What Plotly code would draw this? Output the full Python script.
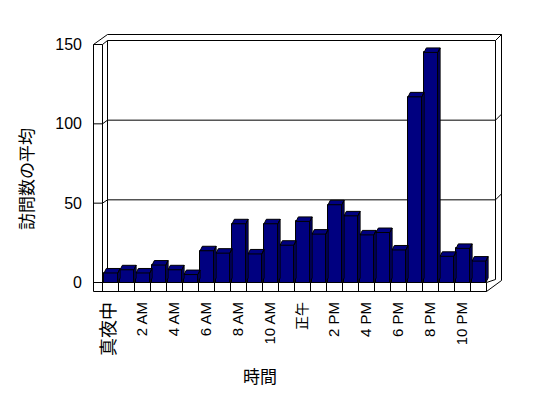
import plotly.graph_objects as go

# ---------------- data ----------------
categories = ["真夜中", "1 AM", "2 AM", "3 AM", "4 AM", "5 AM", "6 AM", "7 AM",
              "8 AM", "9 AM", "10 AM", "11 AM", "正午", "1 PM", "2 PM", "3 PM",
              "4 PM", "5 PM", "6 PM", "7 PM", "8 PM", "9 PM", "10 PM", "11 PM"]
visits = [6, 8, 6, 11, 8, 5, 20, 18.5, 37, 18, 37, 23.5,
          38.5, 30.5, 49, 42, 30, 31.5, 20.5, 117, 145, 16.5, 21.5, 13.5]
y_ticks = [0, 50, 100, 150]
x_title = "時間"
y_title = "訪問数の平均"
label_step = 2

# ---------------- geometry (pixels) ----------------
W, H = 548, 398
PL, PR, PT, PB = 93, 502, 34, 292          # plot area
X_EDGE_PX, CAT_PX = 102.5, 16.0            # px of boundary -0.5, px per category
Y0_PX, UNIT_PX = 282.5, (282.5 - 44.5) / 150.0

def xd(px):
    return -0.5 + (px - X_EDGE_PX) / CAT_PX

def yd(py):
    return (Y0_PX - py) / UNIT_PX

def pxp(px):
    return (px - PL) / (PR - PL)

def pyp(py):
    return (PB - py) / (PB - PT)

NAVY = "#000080"
BAR_OFFSET, BAR_W = -0.4, 0.86
BAR_DX = 0.14
BAR_DY = 4.5 / UNIT_PX

FRONT_L, WALL_IN = 93.5, X_EDGE_PX
BACK_L, BACK_R, BACK_T, BACK_B = 107.5, 495.5, 40.5, 279.5
OUTER_T, OUTER_R = 34.5, 501.5
FLOOR_B = 291.5
FLOOR_R = X_EDGE_PX + len(categories) * CAT_PX
WALL_D = 6.0

def back_y(v):
    return BACK_B - v * (BACK_B - BACK_T) / max(y_ticks)

shapes = []
def seg(x0, y0, x1, y1):
    shapes.append(dict(type="line", xref="x", yref="y", layer="below",
                       x0=xd(x0), y0=yd(y0), x1=xd(x1), y1=yd(y1),
                       line=dict(color="black", width=1)))

top_front = Y0_PX - max(y_ticks) * UNIT_PX
# left wall
seg(FRONT_L, top_front, FRONT_L, FLOOR_B)
seg(WALL_IN, top_front, WALL_IN, FLOOR_B)
seg(FRONT_L, top_front, BACK_L, OUTER_T)
for v in y_ticks:
    yf = Y0_PX - v * UNIT_PX
    yb = back_y(v)
    seg(FRONT_L, yf, WALL_IN, yf)
    seg(WALL_IN, yf, BACK_L, yb)
    if v > 0:
        seg(BACK_L, yb, BACK_R, yb)
        seg(BACK_R, yb, OUTER_R, yb - WALL_D)
# back wall
seg(BACK_L, OUTER_T, OUTER_R, OUTER_T)
seg(BACK_L, BACK_T, BACK_L, BACK_B)
seg(BACK_R, BACK_T, BACK_R, BACK_B)
seg(OUTER_R, OUTER_T, OUTER_R, BACK_B + 1)
# floor
seg(WALL_IN, Y0_PX, FLOOR_R, Y0_PX)
seg(FRONT_L, FLOOR_B, FLOOR_R, FLOOR_B)
for k in range(len(categories) + 1):
    xb = X_EDGE_PX + k * CAT_PX
    seg(xb, Y0_PX, xb, FLOOR_B)
seg(FLOOR_R, FLOOR_B, OUTER_R, BACK_B + 1)
seg(FLOOR_R, Y0_PX, BACK_R, BACK_B)

# ---------------- traces ----------------
xs = list(range(len(categories)))
fig = go.Figure()
fig.add_trace(go.Bar(x=xs, y=visits, width=BAR_W, offset=BAR_OFFSET,
                     marker=dict(color=NAVY, line=dict(color="black", width=1)),
                     hovertext=categories, showlegend=False))

px_, py_ = [], []
for i, v in zip(xs, visits):
    l = i + BAR_OFFSET
    r = l + BAR_W
    # top face
    px_ += [l, l + BAR_DX, r + BAR_DX, r, l, None]
    py_ += [v, v + BAR_DY, v + BAR_DY, v, v, None]
    # side face
    px_ += [r, r, r + BAR_DX, r + BAR_DX, r, None]
    py_ += [0, v, v + BAR_DY, BAR_DY, 0, None]
fig.add_trace(go.Scatter(x=px_, y=py_, mode="lines", fill="toself",
                         fillcolor=NAVY, line=dict(color="black", width=1),
                         hoverinfo="skip", showlegend=False))

label_size = {"真夜中": 18, "正午": 14}
tickvals = xs[::label_step]
ticktext = []
for i in tickvals:
    t = categories[i]
    if t in label_size:
        t = f'<span style="font-size:{label_size[t]}px">{t}</span>'
    ticktext.append(t)

FONT = "Liberation Sans, Arial, Noto Sans CJK JP"
fig.update_layout(
    width=W, height=H,
    margin=dict(l=PL, r=W - PR, t=PT, b=H - PB, pad=0),
    paper_bgcolor="white", plot_bgcolor="white",
    font=dict(family=FONT, size=15, color="black"),
    shapes=shapes,
    bargap=0,
    xaxis=dict(range=[xd(PL), xd(PR)], tickmode="array", tickvals=tickvals,
               ticktext=ticktext, tickangle=-90, showgrid=False, zeroline=False,
               showline=False, ticks="", ticklabelstandoff=6,
               tickfont=dict(family=FONT, size=15, color="black"), fixedrange=True),
    yaxis=dict(range=[yd(PB), yd(PT)], tickmode="array", tickvals=y_ticks,
               showgrid=False, zeroline=False, showline=False, ticks="",
               ticklabelstandoff=10,
               tickfont=dict(family=FONT, size=16, color="black"), fixedrange=True),
    annotations=[
        dict(text=x_title, xref="paper", yref="paper", x=pxp(260), y=pyp(375),
             xanchor="center", yanchor="middle", showarrow=False,
             font=dict(family="Noto Sans CJK JP", size=17, color="black")),
        dict(text=y_title, xref="paper", yref="paper", x=pxp(25), y=pyp(179),
             xanchor="center", yanchor="middle", showarrow=False, textangle=-90,
             font=dict(family="Noto Sans CJK JP", size=17, color="black")),
    ],
)

fig.write_html("out.html")
